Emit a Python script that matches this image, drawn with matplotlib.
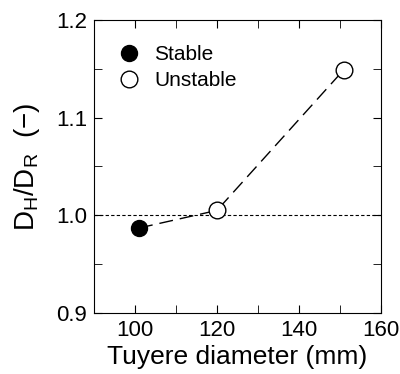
import matplotlib
matplotlib.use('Agg')
import matplotlib.pyplot as plt
from matplotlib.ticker import MultipleLocator, FormatStrFormatter

plt.rcParams['font.family'] = ['Liberation Sans', 'DejaVu Sans']
plt.rcParams['mathtext.fontset'] = 'custom'
plt.rcParams['mathtext.rm'] = 'Liberation Sans'

# Данные
diameter = [101, 120, 151]
ratio = [0.987, 1.005, 1.149]
stable_x = [101]
stable_y = [0.987]
unstable_x = [120, 151]
unstable_y = [1.005, 1.149]

fig = plt.figure(figsize=(4.0, 3.74), dpi=100)
ax = fig.add_axes([0.235, 0.163, 0.717, 0.784])

ax.axhline(1.0, color='black', lw=0.8, linestyle=(0, (3, 2)), zorder=1)
ax.plot(diameter, ratio, color='black', lw=1.0, linestyle=(0, (10, 5)), zorder=2)
ax.plot(stable_x, stable_y, 'o', ms=11.5, mfc='black', mec='black', label='Stable', zorder=3)
ax.plot(unstable_x, unstable_y, 'o', ms=12, mfc='white', mec='black', mew=1.0, label='Unstable', zorder=3)

ax.set_xlim(90, 160)
ax.set_ylim(0.9, 1.2)
ax.xaxis.set_major_locator(MultipleLocator(20))
ax.xaxis.set_minor_locator(MultipleLocator(10))
ax.yaxis.set_major_locator(MultipleLocator(0.1))
ax.yaxis.set_minor_locator(MultipleLocator(0.05))
ax.yaxis.set_major_formatter(FormatStrFormatter('%.1f'))
ax.tick_params(which='both', direction='in', top=True, right=True, labelsize=16)
ax.tick_params(which='both', length=6)
ax.tick_params(axis='x', which='major', pad=5)
ax.tick_params(axis='y', which='major', pad=5)

ax.set_xlabel('Tuyere diameter (mm)', fontsize=19, labelpad=3)
ax.set_ylabel('D$_\\mathregular{H}$/D$_\\mathregular{R}$  (\u2212)', fontsize=20, labelpad=10)

ax.legend(loc='upper left', frameon=False, fontsize=15, handlelength=1.0,
          handletextpad=0.7, borderaxespad=0.9, labelspacing=0.35, borderpad=0.3)

plt.savefig('out.png', dpi=100)
plt.close()
